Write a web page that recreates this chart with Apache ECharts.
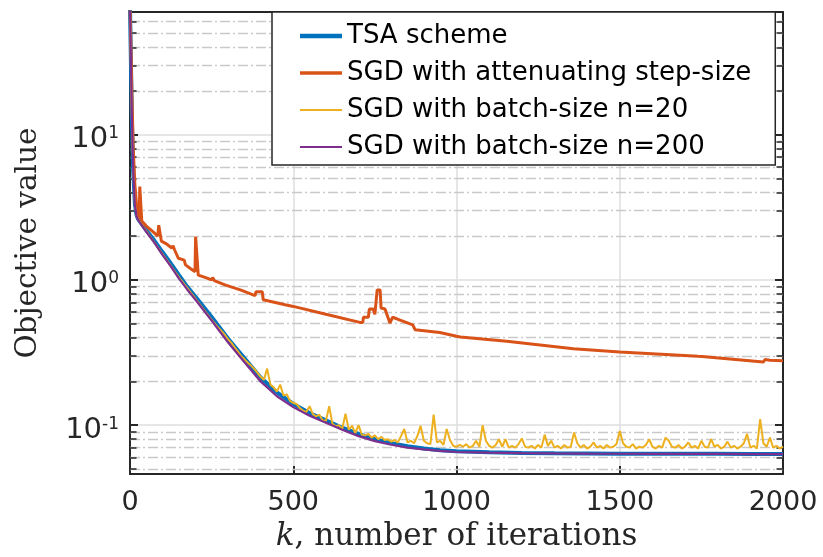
<!DOCTYPE html>
<html><head><meta charset="utf-8">
<script src="https://cdn.jsdelivr.net/npm/echarts@6/dist/echarts.min.js"></script>
<style>html,body{margin:0;padding:0;background:#fff}#c{width:823px;height:557px}</style>
</head><body><div id="c"></div>
<script>
const seriesNames = ['TSA scheme', 'SGD with attenuating step-size', 'SGD with batch-size n=20', 'SGD with batch-size n=200'];
const xTicks = [0, 500, 1000, 1500, 2000];
const yMajorTicks = [0.1, 1, 10];
const yMinorTicks = [0.05,0.06,0.07,0.08,0.09,0.2,0.3,0.4,0.5,0.6,0.7,0.8,0.9,2,3,4,5,6,7,8,9,20,30,40,50,60];

const kSmooth = [0,3,6,10,15,20,25,50,75,100,125,150,175,200,250,300,350,400,450,500,550,600,650,700,750,800,850,900,950,1000,1100,1200,1300,1400,1500,1600,1700,1800,1900,2000];
const tsaValues = [76,30,12,5.5,3.35,2.8,2.62,2.2,1.86,1.55,1.3,1.08,0.9,0.77,0.555,0.395,0.29,0.213,0.168,0.14,0.121,0.108,0.096,0.087,0.080,0.0752,0.0715,0.069,0.0672,0.0660,0.0650,0.0644,0.0640,0.0638,0.0636,0.0635,0.0634,0.0634,0.0633,0.0633];
const n200Values = [76,31,12.6,5.6,3.3,2.75,2.58,2.14,1.80,1.48,1.24,1.02,0.86,0.733,0.525,0.372,0.272,0.2,0.158,0.133,0.116,0.104,0.093,0.084,0.0776,0.0733,0.0700,0.0680,0.0664,0.0653,0.0646,0.0641,0.0638,0.0636,0.0635,0.0634,0.0633,0.0633,0.0632,0.0632];

const kAtten = [0,3,6,10,15,20,25,28,30,33,36,50,70,85,88,92,96,110,128,132,136,148,166,170,185,199,201,205,209,230,250,253,258,291,340,383,386,405,408,475,500,600,704,713,715,730,733,745,750,757,766,769,781,796,804,817,866,873,949,1000,1005,1012,1154,1358,1500,1740,1746,1752,1940,1945,1960,2000];
const attenValues = [75,40,18,8,4.5,3.3,2.8,2.62,4.4,4.3,2.55,2.35,2.15,2.0,2.38,2.35,1.85,1.78,1.66,1.72,1.62,1.41,1.37,1.27,1.2,1.14,1.99,1.95,1.08,1.04,1.0,1.04,0.99,0.924,0.85,0.78,0.83,0.83,0.73,0.674,0.657,0.58,0.51,0.51,0.553,0.553,0.63,0.63,0.58,0.854,0.854,0.64,0.63,0.505,0.553,0.54,0.49,0.454,0.435,0.409,0.42,0.405,0.378,0.336,0.319,0.298,0.305,0.297,0.272,0.283,0.28,0.278];

const kN20Head = [0,3,6,10,15,20,25,50,100,150,200];
const n20Head = [76,31,12.4,5.6,3.3,2.76,2.6,2.17,1.5,1.04,0.745];
const n20TailStart = 250, n20TailStep = 10;
const n20Tail = [
0.53,0.50,0.47,0.445,0.42,0.39,0.37,0.345,0.322,0.30,
0.285,0.27,0.258,0.245,0.23,0.215,0.205,0.245,0.19,0.182,
0.17,0.19,0.16,0.163,0.147,0.142,0.14,0.131,0.126,0.123,
0.135,0.119,0.115,0.118,0.108,0.107,0.135,0.102,0.098,0.1,
0.094,0.12,0.093,0.099,0.088,0.1,0.086,0.085,0.087,0.082,
0.085,0.08,0.083,0.079,0.08,0.077,0.079,0.076,0.084,0.094,
0.076,0.078,0.075,0.084,0.099,0.078,0.075,0.074,0.118,0.076,
0.078,0.073,0.094,0.079,0.072,0.071,0.073,0.071,0.074,0.07,
0.072,0.078,0.071,0.1,0.078,0.072,0.07,0.073,0.08,0.071,
0.08,0.07,0.072,0.07,0.074,0.081,0.071,0.07,0.072,0.069,
0.073,0.07,0.086,0.072,0.078,0.07,0.072,0.069,0.073,0.07,
0.071,0.089,0.075,0.07,0.073,0.069,0.071,0.076,0.07,0.072,
0.069,0.073,0.07,0.071,0.074,0.091,0.075,0.071,0.07,0.074,
0.069,0.071,0.07,0.073,0.08,0.071,0.069,0.072,0.07,0.082,
0.078,0.071,0.07,0.073,0.069,0.071,0.076,0.07,0.072,0.069,
0.078,0.071,0.07,0.08,0.071,0.073,0.069,0.071,0.077,0.07,
0.072,0.069,0.071,0.075,0.087,0.07,0.072,0.069,0.11,0.075,
0.071,0.082,0.07,0.072,0.069,0.071];

const colors = ['#0072BD', '#D95319', '#EDB120', '#7E2F8E'];
const widths = [4, 3, 2, 2.2];
const legendThickness = [4.5, 3.5, 2.2, 2.2];

const zip = (ks, vs) => ks.map((k, i) => [k, vs[i]]);
const n20Data = zip(kN20Head, n20Head).concat(n20Tail.map((v, i) => [n20TailStart + i * n20TailStep, v]));
const seriesData = [zip(kSmooth, tsaValues), zip(kAtten, attenValues), n20Data, zip(kSmooth, n200Values)];

const axisColor = '#262626';
const YMIN = 0.046, YMAX = 70, XMIN = 0, XMAX = 2000;
const minorTickLen = 20;

function yLabel(v) {
  for (const t of yMajorTicks) {
    if (Math.abs(v - t) / t < 1e-6) {
      const e = Math.round(Math.log10(t));
      return '{b|10}{s|' + e + '}';
    }
  }
  return '';
}

const chart = echarts.init(document.getElementById('c'));
const lineSeries = seriesNames.map((name, i) => ({
  name, type: 'line', data: seriesData[i], symbol: 'none', showSymbol: false,
  xAxisIndex: 0, yAxisIndex: 0,
  lineStyle: { color: colors[i], width: widths[i] },
  itemStyle: { color: colors[i] },
  emphasis: { disabled: true },
  z: 3 + i, animation: false
}));

chart.setOption({
  animation: false,
  backgroundColor: '#fff',
  grid: { left: 130, top: 12, right: 40, bottom: 81, containLabel: false },
  xAxis: [{
    type: 'value', min: XMIN, max: XMAX, interval: 500, position: 'bottom',
    name: '{i|k}, number of iterations', nameLocation: 'middle', nameGap: 44,
    nameTextStyle: { fontFamily: 'DejaVu Serif', fontSize: 31, color: axisColor,
      rich: { i: { fontFamily: 'DejaVu Serif', fontStyle: 'italic', fontSize: 31, color: axisColor } } },
    axisLine: { show: true, onZero: false, lineStyle: { color: axisColor, width: 2 } },
    axisTick: { show: true, inside: true, length: 8, lineStyle: { color: axisColor, width: 2 } },
    axisLabel: { margin: 15, fontFamily: 'DejaVu Sans', fontSize: 27, color: axisColor, formatter: v => String(v) },
    splitLine: { show: true, lineStyle: { color: '#dedede', width: 1.5 } }
  }, {
    type: 'value', min: XMIN, max: XMAX, interval: 500, position: 'top',
    axisLine: { show: true, onZero: false, lineStyle: { color: axisColor, width: 2 } },
    axisTick: { show: true, inside: true, length: 8, lineStyle: { color: axisColor, width: 2 } },
    axisLabel: { show: false }, splitLine: { show: false }
  }],
  yAxis: [{
    type: 'log', logBase: 10, min: YMIN, max: YMAX, position: 'left',
    name: 'Objective value', nameLocation: 'middle', nameGap: 87, nameRotate: 90,
    nameTextStyle: { fontFamily: 'DejaVu Serif', fontSize: 29.5, color: axisColor },
    axisLine: { show: true, onZero: false, lineStyle: { color: axisColor, width: 2 } },
    axisTick: { show: true, inside: true, length: 8, lineStyle: { color: axisColor, width: 2 } },
    axisLabel: { margin: 11, showMinLabel: false, showMaxLabel: false, formatter: yLabel, padding: [10, 0, 0, 0],
      rich: { b: { fontFamily: 'DejaVu Sans', fontSize: 29, color: axisColor },
              s: { fontFamily: 'DejaVu Sans', fontSize: 17, color: axisColor, verticalAlign: 'top' } } },
    splitLine: { show: true, lineStyle: { color: '#dedede', width: 1.5 } }
  }, {
    type: 'log', logBase: 10, min: YMIN, max: YMAX, position: 'right',
    axisLine: { show: true, onZero: false, lineStyle: { color: axisColor, width: 2 } },
    axisTick: { show: true, inside: true, length: 8, lineStyle: { color: axisColor, width: 2 } },
    axisLabel: { show: false }, splitLine: { show: false }
  }],
  legend: {
    z: 100, zlevel: 1,
    data: seriesNames.map((n, i) => ({
      name: n,
      icon: 'path://M0,0L420,0L420,' + Math.round(legendThickness[i] * 10) + 'L0,' + Math.round(legendThickness[i] * 10) + 'Z',
      itemStyle: { color: colors[i], borderWidth: 0 }
    })),
    orient: 'vertical', left: 272, top: 12,
    padding: [9, 24, 3, 28], itemWidth: 42, itemHeight: 14, itemGap: 7,
    textStyle: { fontFamily: 'DejaVu Sans', fontSize: 26, color: '#000', lineHeight: 30 },
    borderColor: axisColor, borderWidth: 1.5, backgroundColor: '#fff',
    itemTextGap: 3, inactiveColor: '#ccc', selectedMode: false
  },
  series: [{
    type: 'line', name: 'minorGrid', data: [], silent: true, z: 1,
    markLine: { z: 1, silent: true, symbol: ['none', 'none'], label: { show: false }, animation: false,
      lineStyle: { color: '#c9c9c9', width: 1.3, type: [10, 3, 2, 3] },
      data: yMinorTicks.map(v => ({ yAxis: v })) }
  }, {
    type: 'line', name: 'minorTicks', data: [], silent: true, z: 2,
    markLine: { z: 2, silent: true, symbol: ['none', 'none'], label: { show: false }, animation: false,
      lineStyle: { color: axisColor, width: 1.5, type: 'solid' },
      data: yMinorTicks.map(v => [{ coord: [XMIN, v] }, { coord: [XMIN + minorTickLen, v] }])
        .concat(yMinorTicks.map(v => [{ coord: [XMAX - minorTickLen, v] }, { coord: [XMAX, v] }])) }
  }].concat(lineSeries)
});
</script></body></html>
